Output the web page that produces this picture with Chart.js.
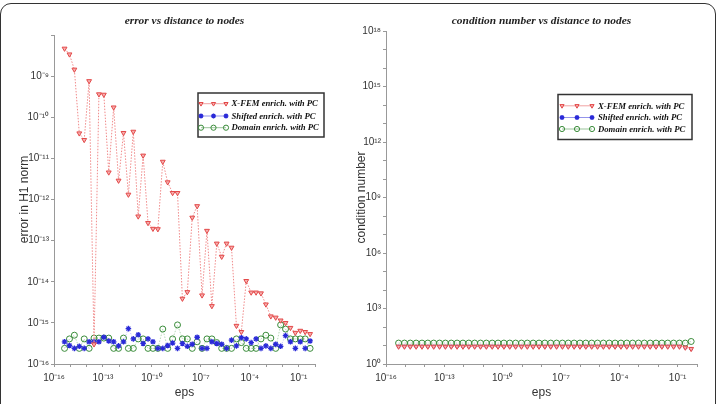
<!DOCTYPE html>
<html>
<head>
<meta charset="utf-8">
<script src="https://cdn.jsdelivr.net/npm/chart.js@4/dist/chart.umd.min.js"></script>
<style>
body{margin:0;background:#fff;width:721px;height:404px;overflow:hidden;position:relative;}
#frame{position:absolute;left:0;top:3px;width:714px;height:480px;border:1.5px solid #333;border-radius:11px;}
.box{position:absolute;top:0;height:404px;}
#leftBox{left:0;width:350px;}
#rightBox{left:350px;width:371px;}
</style>
</head>
<body>
<div id="frame"></div>
<div class="box" id="leftBox"><canvas id="errChart"></canvas></div>
<div class="box" id="rightBox"><canvas id="condChart"></canvas></div>
<script>
// eps = 2^-k, k de 51 a 1
const epsPow2 = [51,50,49,48,47,46,45,44,43,42,41,40,39,38,37,36,35,34,33,32,31,30,29,28,27,26,25,24,23,22,21,20,19,18,17,16,15,14,13,12,11,10,9,8,7,6,5,4,3,2,1];

const seriesNames = ['X-FEM enrich. with PC', 'Shifted enrich. with PC', 'Domain enrich. with PC'];

// error en norma H1, guardado como log10
const errXfem = [-8.33,-8.47,-8.84,-10.39,-10.55,-9.12,-15.52,-9.44,-9.45,-11.34,
  -9.76,-11.54,-10.38,-11.88,-10.35,-12.41,-10.93,-12.57,-12.71,-12.72,
  -11.08,-11.58,-11.84,-11.84,-14.41,-14.25,-12.44,-12.16,-14.33,-12.76,
  -14.59,-13.07,-13.39,-13.07,-13.17,-15.07,-15.22,-13.98,-14.26,-14.26,
  -14.28,-14.55,-14.84,-14.87,-14.94,-15.0,-15.12,-15.24,-15.19,-15.22,-15.27];
const errShifted = [-15.46,-15.55,-15.62,-15.57,-15.62,-15.46,-15.46,-15.46,-15.35,-15.44,
  -15.46,-15.56,-15.46,-15.14,-15.39,-15.29,-15.50,-15.39,-15.46,-15.62,
  -15.62,-15.55,-15.49,-15.62,-15.50,-15.57,-15.52,-15.35,-15.62,-15.62,
  -15.46,-15.50,-15.52,-15.62,-15.42,-15.56,-15.36,-15.39,-15.48,-15.39,
  -15.62,-15.56,-15.62,-15.52,-15.57,-15.31,-15.46,-15.62,-15.46,-15.62,-15.44];
const errDomain = [-15.62,-15.39,-15.30,-15.62,-15.39,-15.62,-15.37,-15.37,-15.37,-15.37,
  -15.62,-15.62,-15.37,-15.62,-15.62,-15.39,-15.39,-15.62,-15.62,-15.62,
  -15.15,-15.62,-15.39,-15.05,-15.39,-15.39,-15.62,-15.46,-15.62,-15.39,
  -15.39,-15.48,-15.62,-15.62,-15.62,-15.39,-15.48,-15.62,-15.62,-15.62,
  -15.39,-15.30,-15.37,-15.62,-15.05,-15.15,-15.39,-15.39,-15.39,-15.39,-15.62];

// numero de condicion
const condXfem = [8.8,8.8,8.8,8.8,8.8,8.8,8.8,8.8,8.8,8.8,8.8,8.8,8.8,8.8,8.8,8.8,8.8,8.8,8.8,8.8,
  8.8,8.8,8.8,8.8,8.8,8.8,8.8,8.8,8.8,8.8,8.8,8.8,8.8,8.8,8.8,8.8,8.8,8.8,8.8,8.8,
  8.8,8.8,8.8,8.8,8.8,8.8,8.8,8.8,8.8,7.8,6.6];
const condShifted = [8.8,8.8,8.8,8.8,8.8,8.8,8.8,8.8,8.8,8.8,8.8,8.8,8.8,8.8,8.8,8.8,8.8,8.8,8.8,8.8,
  8.8,8.8,8.8,8.8,8.8,8.8,8.8,8.8,8.8,8.8,8.8,8.8,8.8,8.8,8.8,8.8,8.8,8.8,8.8,8.8,
  8.8,8.8,8.8,8.8,8.8,8.8,8.8,8.8,8.8,7.8,6.6];
const condDomain = [13.5,13.5,13.5,13.5,13.5,13.5,13.5,13.5,13.5,13.5,13.5,13.5,13.5,13.5,13.5,13.5,13.5,13.5,13.5,13.5,
  13.5,13.5,13.5,13.5,13.5,13.5,13.5,13.5,13.5,13.5,13.5,13.5,13.5,13.5,13.5,13.5,13.5,13.5,13.5,13.5,
  13.5,13.5,13.5,13.5,13.5,13.5,13.5,13.5,13.5,13.5,16.5];

const SUP = {'-':'⁻','0':'⁰','1':'¹','2':'²','3':'³','4':'⁴','5':'⁵','6':'⁶','7':'⁷','8':'⁸','9':'⁹'};
function pow10Label(e){
    return '10' + String(e).split('').map(c => SUP[c]).join('');
}
function decadeTicks(scale, from, to){
    const t = [];
    for(let e = from; e <= to; e++){
        t.push({value: Number('1e' + e)});
    }
    scale.ticks = t;
}
const expOf = v => Math.round(Math.log10(v));

const styles = [
    {pointStyle:'triangle', pointRotation:180, pointRadius:2.8, pointBorderWidth:1,
     pointBorderColor:'#e34848', pointBackgroundColor:'#f6b0b0',
     borderColor:'#f08a8a', borderDash:[1.5,1.5], borderWidth:1},
    {pointStyle:'star', pointRotation:0, pointRadius:2.8, pointBorderWidth:1.3,
     pointBorderColor:'#2a2ad8', pointBackgroundColor:'#2a2ad8',
     borderColor:'rgba(120,120,240,0.4)', borderDash:[1.5,1.5], borderWidth:1},
    {pointStyle:'circle', pointRotation:0, pointRadius:3, pointBorderWidth:1,
     pointBorderColor:'#3a8c3a', pointBackgroundColor:'rgba(255,255,255,0)',
     borderColor:'rgba(110,180,110,0.5)', borderDash:[1.5,1.5], borderWidth:1}
];

function buildDatasets(lists, isLog, hiddenUnder){
    return lists.map((vals, i) => {
        const ds = Object.assign({
            label: seriesNames[i],
            showLine: true,
            data: vals.map((v, j) => ({x: Math.pow(2, -epsPow2[j]), y: isLog ? Math.pow(10, v) : v}))
        }, styles[i]);
        // la serie que queda tapada por la roja
        if(hiddenUnder === i){
            ds.pointRadius = 1.8;
            ds.borderWidth = 0;
        }
        return ds;
    });
}

// titulo centrado sobre el area del grafico + leyenda con caja
const boxLegend = {
    id: 'boxLegend',
    afterDraw(chart, args, opts){
        const ctx = chart.ctx;
        const area = chart.chartArea;
        ctx.save();
        ctx.font = 'italic bold 11.4px "Liberation Serif"';
        ctx.fillStyle = '#222';
        ctx.textAlign = 'center';
        ctx.textBaseline = 'middle';
        ctx.fillText(opts.title, (area.left + area.right) / 2, opts.titleY);

        ctx.fillStyle = '#fff';
        ctx.fillRect(opts.x, opts.y, opts.w, opts.h);
        ctx.strokeStyle = '#333';
        ctx.lineWidth = 1.5;
        ctx.strokeRect(opts.x, opts.y, opts.w, opts.h);
        ctx.font = 'bold italic 10px "Liberation Serif"';
        const size = 10 * opts.textWidth / ctx.measureText(chart.data.datasets[0].label).width;
        chart.data.datasets.forEach((ds, i) => {
            const st = styles[i];
            const y = opts.y + opts.rows[i];
            ctx.strokeStyle = st.pointBorderColor;
            ctx.globalAlpha = 0.5;
            ctx.lineWidth = 1;
            ctx.beginPath();
            ctx.moveTo(opts.marks[0], y);
            ctx.lineTo(opts.marks[2], y);
            ctx.stroke();
            ctx.globalAlpha = 1;
            ctx.fillStyle = st.pointBackgroundColor;
            ctx.lineWidth = st.pointBorderWidth;
            opts.marks.forEach(mx => {
                Chart.helpers.drawPoint(ctx, {pointStyle: st.pointStyle, rotation: st.pointRotation,
                    radius: st.pointRadius - 0.4, borderWidth: st.pointBorderWidth}, mx, y);
            });
            ctx.font = 'bold italic ' + size + 'px "Liberation Serif"';
            ctx.fillStyle = '#111';
            ctx.textAlign = 'left';
            ctx.textBaseline = 'middle';
            ctx.fillText(ds.label, opts.textX, y + 0.5);
        });
        ctx.restore();
    }
};

const tickFont = {family: '"Liberation Sans", Arial', size: 10};
const axisTitleFont = {family: '"Liberation Sans", Arial', size: 12};

function makeChart(canvasId, cfg){
    return new Chart(document.getElementById(canvasId), {
        type: 'scatter',
        data: {datasets: cfg.datasets},
        options: {
            responsive: true,
            maintainAspectRatio: false,
            animation: false,
            devicePixelRatio: 1,
            layout: {padding: {left: 0, right: cfg.padRight, top: cfg.padTop, bottom: 0}},
            scales: {
                x: {
                    type: 'logarithmic', min: 1e-16, max: 1,
                    afterBuildTicks: s => decadeTicks(s, -16, 0),
                    afterFit: s => { s.height = 40; },
                    ticks: {autoSkip: false, maxRotation: 0, padding: 5, color: '#333', font: tickFont,
                        callback: v => { const e = expOf(v); return (e + 16) % 3 === 0 && e < 0 ? pow10Label(e) : ''; }},
                    grid: {drawOnChartArea: false, tickLength: 3, color: '#999'},
                    border: {color: '#999'},
                    title: {display: true, text: 'eps', color: '#333', font: axisTitleFont, padding: {top: 0, bottom: 4}}
                },
                y: {
                    type: 'logarithmic', min: cfg.yMin, max: cfg.yMax,
                    afterBuildTicks: s => decadeTicks(s, expOf(cfg.yMin), expOf(cfg.yMax)),
                    afterFit: s => { s.width = cfg.yWidth; },
                    ticks: {autoSkip: false, padding: 2, color: '#333', font: tickFont,
                        callback: v => cfg.yLabel(expOf(v)) ? pow10Label(expOf(v)) : ''},
                    grid: {drawOnChartArea: false, tickLength: 3, color: '#999'},
                    border: {color: '#999'},
                    title: {display: true, text: cfg.yTitle, color: '#333', font: axisTitleFont,
                        padding: {top: cfg.yTitlePad, bottom: 0}}
                }
            },
            plugins: {
                legend: {display: false},
                tooltip: {enabled: false},
                title: {display: false},
                boxLegend: cfg.legend
            }
        },
        plugins: [boxLegend]
    });
}

makeChart('errChart', {
    datasets: buildDatasets([errXfem, errShifted, errDomain], true, -1),
    padTop: 35,
    padRight: 35,
    yMin: 1e-16, yMax: 1e-8, yWidth: 54,
    yLabel: e => e <= -9,
    yTitle: 'error in H1 norm', yTitlePad: 17,
    legend: {title: 'error vs distance to nodes', titleY: 21.5,
        x: 198, y: 93, w: 126, h: 44, rows: [10.7, 23, 34.7], marks: [201, 213.5, 226], textX: 231.5, textWidth: 86.5}
});

makeChart('condChart', {
    datasets: buildDatasets([condXfem, condShifted, condDomain], false, 1),
    padTop: 31,
    padRight: 24,
    yMin: 1, yMax: 1e18, yWidth: 36,
    yLabel: e => e % 3 === 0,
    yTitle: 'condition number', yTitlePad: 4.5,
    legend: {title: 'condition number vs distance to nodes', titleY: 21.5,
        x: 208, y: 94.5, w: 134, h: 45, rows: [11.3, 23, 34.5], marks: [212, 227, 242], textX: 248, textWidth: 86.5}
});
</script>
</body>
</html>
